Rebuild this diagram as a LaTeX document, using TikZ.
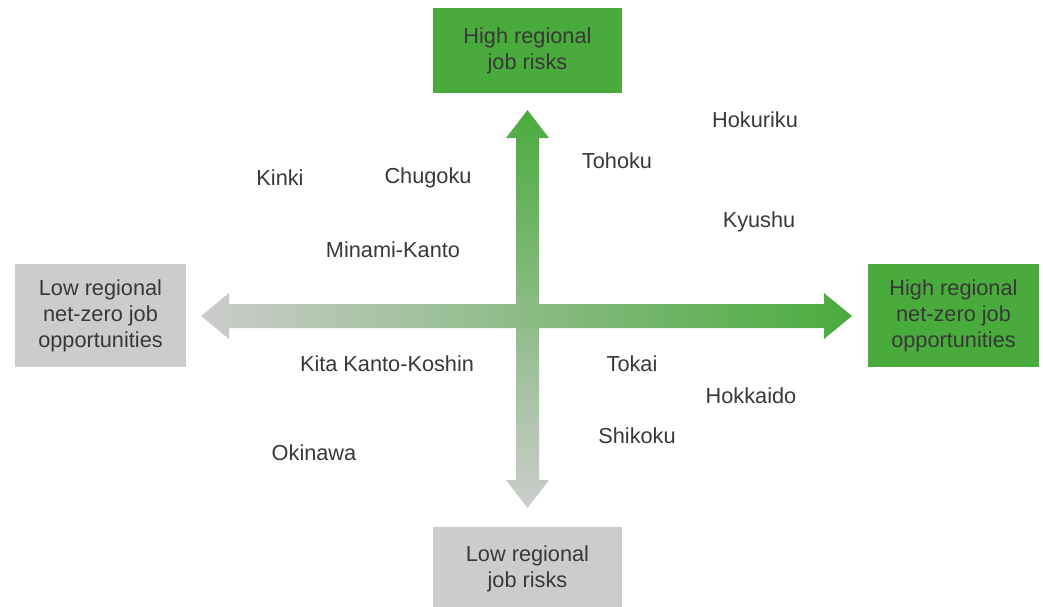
\documentclass[tikz,border=0pt]{standalone}
\usepackage{fontspec}
\setmainfont{Liberation Sans}
\definecolor{grn}{HTML}{4AAB3D}
\definecolor{gry}{HTML}{CCCCCC}
\definecolor{txt}{HTML}{383838}
\begin{document}
\begin{tikzpicture}[x=0.75pt,y=-0.75pt,
  box/.style={rectangle, inner sep=0pt, align=center, text=txt,
    font=\fontsize{16.3pt}{19.5pt}\selectfont},
  hibox/.style={box, fill=grn},
  lobox/.style={box, fill=gry},
  region/.style={inner sep=0pt, text=txt, font=\fontsize{16.3pt}{19.5pt}\selectfont}]
\useasboundingbox (0,0) rectangle (1043,607);
% boxes
\node[hibox, minimum width={189*0.75pt}, minimum height={85*0.75pt}] (top) at (527.5,50.5) {High regional\\job risks};
\node[lobox, minimum width={189*0.75pt}, minimum height={84*0.75pt}] (bot) at (527.5,569) {Low regional\\job risks};
\node[lobox, minimum width={171*0.75pt}, minimum height={103*0.75pt}] (left) at (100.5,315.5) {Low regional\\net-zero job\\opportunities};
\node[hibox, minimum width={171*0.75pt}, minimum height={103*0.75pt}] (right) at (953.5,315.5) {High regional\\net-zero job\\opportunities};
% vertical arrow
\coordinate (vt) at (527.5,110);
\coordinate (vb) at (527.5,508);
\shade[top color=grn, bottom color=gry]
  (vt) -- ++(21.5,28) -- ++(-10,0) -- (539,480) -- ++(10,0) -- (vb)
  -- (506,480) -- ++(10,0) -- (516,138) -- ++(-10,0) -- cycle;
% horizontal arrow
\coordinate (hl) at (201,316);
\coordinate (hr) at (852,316);
\shade[left color=gry, right color=grn]
  (hl) -- (229,293) -- (229,304) -- (824,304) -- (824,293) -- (hr)
  -- (824,339) -- (824,328) -- (229,328) -- (229,339) -- cycle;
% regions
\node[region] (hokuriku) at (755,120) {Hokuriku};
\node[region] (tohoku) at (617,161) {Tohoku};
\node[region] (kinki) at (280,178) {Kinki};
\node[region] (chugoku) at (428,178) {Chugoku};
\node[region] (kyushu) at (759,222) {Kyushu};
\node[region] (minami) at (393,250) {Minami-Kanto};
\node[region] (kita) at (387,364) {Kita Kanto-Koshin};
\node[region] (tokai) at (632,364) {Tokai};
\node[region] (hokkaido) at (751,396) {Hokkaido};
\node[region] (shikoku) at (637,436) {Shikoku};
\node[region] (okinawa) at (314,453) {Okinawa};
\end{tikzpicture}
\end{document}
